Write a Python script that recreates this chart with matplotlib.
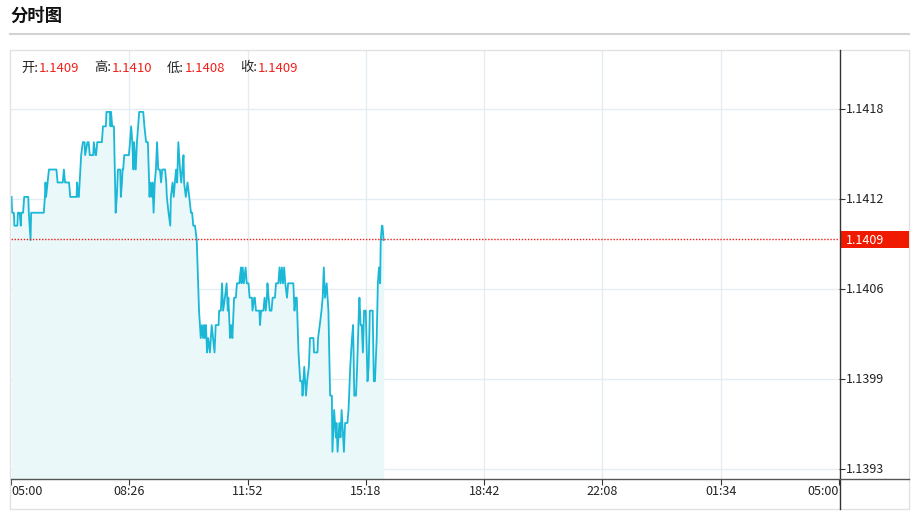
import matplotlib
matplotlib.use("Agg")
import matplotlib.pyplot as plt
from matplotlib.lines import Line2D
from matplotlib.patches import Rectangle

plt.rcParams['font.family'] = ['Noto Sans CJK SC', 'DejaVu Sans']

# ========== Data ==========
# minutes after 05:00, price
minutes = [
    1, 2, 5, 6, 11, 12, 15, 17, 18, 21, 23, 30, 31, 34, 35, 57, 59, 60, 61, 66,
    79, 81, 90, 92, 94, 96, 101, 103, 114, 115, 117, 118, 122, 125, 128, 129, 133, 135, 137, 143,
    144, 147, 148, 150, 158, 160, 165, 166, 172, 173, 174, 176, 179, 182, 184, 186, 190, 191, 193, 194,
    195, 197, 205, 207, 209, 211, 213, 214, 217, 219, 221, 223, 230, 232, 235, 238, 241, 242, 245, 246,
    248, 250, 252, 254, 256, 259, 261, 263, 268, 270, 271, 274, 277, 278, 281, 283, 285, 287, 289, 291,
    294, 296, 298, 300, 301, 304, 307, 310, 313, 315, 317, 320, 323, 327, 330, 332, 334, 336, 337, 339,
    341, 343, 346, 349, 354, 356, 361, 362, 365, 367, 369, 372, 375, 377, 378, 381, 383, 385, 387, 388,
    391, 393, 397, 400, 401, 403, 405, 408, 410, 413, 415, 419, 420, 423, 424, 426, 432, 433, 435, 439,
    441, 443, 445, 446, 448, 450, 453, 455, 459, 461, 465, 467, 469, 471, 473, 475, 477, 480, 482, 491,
    493, 495, 497, 500, 503, 506, 507, 510, 513, 515, 518, 519, 520, 526, 527, 533, 534, 537, 540, 542,
    544, 546, 549, 552, 555, 558, 559, 562, 565, 566, 568, 571, 573, 575, 579, 581, 585, 587, 590, 593,
    595, 597, 600, 602, 605, 606, 608, 610, 612, 614, 617, 620, 622, 624, 629, 631, 633, 636, 638, 640,
    642, 643, 645, 646, 648,
]
prices = [
    1.14119, 1.14108, 1.14108, 1.14099, 1.14099, 1.14108, 1.14108, 1.14099, 1.14108, 1.14108,
    1.14119, 1.14119, 1.14108, 1.14089, 1.14108, 1.14108, 1.14119, 1.14129, 1.14119, 1.14138,
    1.14138, 1.14129, 1.14129, 1.14138, 1.14129, 1.14129, 1.14129, 1.14119, 1.14119, 1.14129,
    1.14119, 1.14119, 1.14148, 1.14157, 1.14157, 1.14148, 1.14157, 1.14157, 1.14148, 1.14148,
    1.14157, 1.14148, 1.14148, 1.14157, 1.14157, 1.14168, 1.14168, 1.14178, 1.14178, 1.14168,
    1.14178, 1.14168, 1.14168, 1.14108, 1.14119, 1.14138, 1.14138, 1.14119, 1.14129, 1.14138,
    1.14138, 1.14148, 1.14148, 1.14157, 1.14168, 1.14157, 1.14138, 1.14157, 1.14138, 1.14157,
    1.14168, 1.14178, 1.14178, 1.14168, 1.14157, 1.14157, 1.14119, 1.14129, 1.14119, 1.14129,
    1.14108, 1.14129, 1.14138, 1.14157, 1.14138, 1.14138, 1.14129, 1.14138, 1.14138, 1.14129,
    1.14119, 1.14108, 1.14099, 1.14119, 1.14129, 1.14119, 1.14129, 1.14138, 1.14129, 1.14157,
    1.14138, 1.14129, 1.14138, 1.14148, 1.14129, 1.14119, 1.14129, 1.14119, 1.14108, 1.14108,
    1.14099, 1.14099, 1.14089, 1.14040, 1.14021, 1.14030, 1.14021, 1.14030, 1.14021, 1.14030,
    1.14011, 1.14021, 1.14011, 1.14030, 1.14011, 1.14030, 1.14030, 1.14040, 1.14040, 1.14059,
    1.14040, 1.14049, 1.14059, 1.14040, 1.14049, 1.14021, 1.14030, 1.14021, 1.14040, 1.14049,
    1.14049, 1.14059, 1.14059, 1.14070, 1.14059, 1.14070, 1.14059, 1.14070, 1.14059, 1.14059,
    1.14049, 1.14049, 1.14040, 1.14049, 1.14049, 1.14040, 1.14040, 1.14030, 1.14040, 1.14040,
    1.14049, 1.14040, 1.14049, 1.14059, 1.14049, 1.14040, 1.14040, 1.14049, 1.14049, 1.14059,
    1.14059, 1.14070, 1.14059, 1.14070, 1.14059, 1.14070, 1.14059, 1.14049, 1.14059, 1.14059,
    1.14040, 1.14049, 1.14049, 1.14011, 1.13991, 1.13991, 1.13981, 1.14001, 1.13981, 1.13991,
    1.14001, 1.14011, 1.14021, 1.14021, 1.14011, 1.14011, 1.14021, 1.14030, 1.14040, 1.14049,
    1.14070, 1.14049, 1.14059, 1.14040, 1.13981, 1.13981, 1.13942, 1.13971, 1.13952, 1.13962,
    1.13942, 1.13962, 1.13952, 1.13971, 1.13942, 1.13962, 1.13962, 1.13971, 1.14001, 1.14021,
    1.14030, 1.13981, 1.13981, 1.14001, 1.14040, 1.14049, 1.14030, 1.14030, 1.14011, 1.14040,
    1.14040, 1.13991, 1.14001, 1.14040, 1.14040, 1.13991, 1.13991, 1.14021, 1.14059, 1.14070,
    1.14059, 1.14089, 1.14099, 1.14099, 1.14089,
]

last_price = 1.1409
info_labels = ["开:", "高:", "低:", "收:"]
info_values = ["1.1409", "1.1410", "1.1408", "1.1409"]

x_tick_labels = ["05:00", "08:26", "11:52", "15:18", "18:42", "22:08", "01:34", "05:00"]
y_ticks = [1.1393, 1.139925, 1.14055, 1.141175, 1.1418]
y_tick_labels = ["1.1393", "1.1399", "1.1406", "1.1412", "1.1418"]

LINE = "#1ab8d6"
FILL = "#eaf8fa"
RED = "#f0201a"
GRID = "#e4edf2"
AXIS = "#333333"

W, H = 913, 511


def fx(px):
    return px / W


def fy(py):
    return 1 - py / H


# ========== Figure ==========
fig = plt.figure(figsize=(W / 100, H / 100), dpi=100)
fig.patch.set_facecolor("white")

# title + separator
fig.text(fx(10), fy(16), "分时图", fontsize=12.5, fontweight="bold", va="center", ha="left", color="#111111")
fig.add_artist(Line2D([fx(10), fx(909)], [fy(34), fy(34)], color="#d2d2d2", lw=1.5))

# outer frame of the chart panel
fig.add_artist(Rectangle((fx(10), fy(509)), fx(899), 459 / H, fill=False, edgecolor="#e2e2e2", lw=1))

ax = fig.add_axes([fx(11), fy(479), fx(828), 429 / H])
ax.set_xlim(0, 1440)
ax.set_ylim(1.139231, 1.14221)

ax.fill_between(minutes, prices, 1.139231, color=FILL, lw=0, zorder=1)
ax.plot(minutes, prices, color=LINE, lw=1.3, zorder=3)
ax.axhline(last_price, color=RED, lw=1, ls=(0, (1, 1.2)), zorder=4)

x_ticks = [1440 * i / 7 for i in range(8)]
ax.set_xticks(x_ticks)
ax.set_xticklabels([])
ax.set_yticks(y_ticks)
ax.set_yticklabels([])
for t in x_ticks[1:-1]:
    ax.axvline(t, color=GRID, lw=1, zorder=0)
for t in y_ticks:
    ax.axhline(t, color=GRID, lw=1, zorder=0)

ax.tick_params(axis="x", direction="out", length=4, color=AXIS, width=0.8)
ax.tick_params(axis="y", direction="out", length=4, color=AXIS, width=0.8,
               left=False, right=True)
for s in ax.spines.values():
    s.set_visible(False)

# axis lines: right one runs to the frame bottom, bottom one runs to the frame right
fig.add_artist(Line2D([fx(839.5), fx(839.5)], [fy(50), fy(509)], color=AXIS, lw=1))
fig.add_artist(Line2D([fx(11), fx(909)], [fy(479), fy(479)], color="#555555", lw=1))

# tick labels
for i, (t, lab) in enumerate(zip(x_ticks, x_tick_labels)):
    ha = "left" if i == 0 else ("right" if i == len(x_ticks) - 1 else "center")
    ax.text(t, -0.03, lab, transform=ax.get_xaxis_transform(), ha=ha, va="center",
            fontsize=9, color="#222222")
for t, lab in zip(y_ticks, y_tick_labels):
    ax.text(1.008, t, lab, transform=ax.get_yaxis_transform(), ha="left", va="center",
            fontsize=9, color="#222222")

# current price marker
fig.add_artist(Rectangle((fx(841), fy(248)), fx(68), 17 / H, color="#f01a00", lw=0))
fig.text(fx(846), fy(240), "1.1409", fontsize=9, color="white", va="center", ha="left")

# open / high / low / close line
label_x = [21, 94, 167, 240]
for lx, lab, val in zip(label_x, info_labels, info_values):
    t = fig.text(fx(lx), fy(68), lab, fontsize=9.5, color="#222222", va="center", ha="left")
    fig.text(fx(lx + 18), fy(68), val, fontsize=9.5, color=RED, va="center", ha="left")

fig.savefig("out.png", dpi=100)
